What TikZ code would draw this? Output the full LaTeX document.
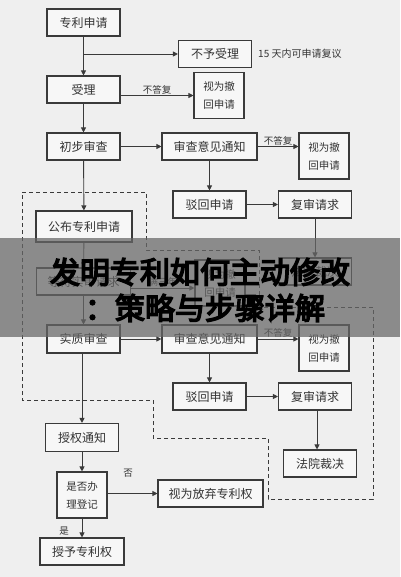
\documentclass[tikz,border=0pt]{standalone}
\usepackage{fontspec}
\usepackage{xcolor}
\usetikzlibrary{arrows.meta}
\newfontfamily\cjk{Noto Sans CJK SC}
\newfontfamily\cjktitle[FakeBold=5]{Noto Sans CJK SC}
\definecolor{paperbg}{HTML}{EFEFEF}
\definecolor{boxbg}{HTML}{F7F7F7}
\definecolor{inkline}{HTML}{3A3A3A}

\begin{document}
\begin{tikzpicture}[x=1pt, y=-1pt,
    box/.style={draw=inkline, line width=1.1pt, fill=boxbg, text=black!80,
        minimum width=73pt, minimum height=27pt, inner sep=0pt,
        font=\cjk\fontsize{12}{14}\selectfont},
    tallbox/.style={box, minimum width=50pt, minimum height=46pt, align=center,
        font=\cjk\fontsize{10.5}{18}\selectfont},
    arr/.style={draw=inkline, line width=0.9pt, -{Triangle[length=5pt,width=5pt]}},
    lbl/.style={font=\cjk\fontsize{9.5}{11}\selectfont, text=black!80, inner sep=1pt},
    zone/.style={draw=inkline, line width=0.9pt, dash pattern=on 4pt off 3pt}
]
    \useasboundingbox (0,0) rectangle (400,577);
    \fill[paperbg] (0,0) rectangle (400,577);

    % dashed zone round the substantive examination
    \draw[zone] (22,192) -- (146,192) -- (146,250) -- (259,250) -- (259,307)
        -- (373,307) -- (373,499) -- (268,499) -- (268,438) -- (153,438)
        -- (153,400) -- (22,400) -- cycle;

    % upper part - filing and preliminary examination
    \node[box] (apply) at (83.5,22.5) {专利申请};
    \node[box] (reject) at (215,54) {不予受理};
    \node[lbl, anchor=west, font=\cjk\fontsize{10}{12}\selectfont] (note) at (257,54) {15 天内可申请复议};
    \node[box] (accept) at (83.5,89.5) {受理};
    \node[tallbox] (wdA) at (219,95.5) {视为撤\\回申请};
    \node[box] (prelim) at (83.5,146.5) {初步审查};
    \node[box, minimum width=95pt] (noticeA) at (209.5,146.5) {审查意见通知};
    \node[tallbox] (wdB) at (324,156) {视为撤\\回申请};
    \node[box] (rejA) at (209.5,204.5) {驳回申请};
    \node[box] (reviewA) at (315,204.5) {复审请求};
    \node[box, minimum width=96pt, minimum height=31pt] (publish) at (84,226.5) {公布专利申请};
    \node[box, minimum width=94pt] (wait) at (83.5,281.5) {等待实审请求};
    \node[tallbox] (wdC) at (220,283) {视为撤\\回申请};
    \node[box] (courtA) at (315,271.5) {法院裁决};

    \coordinate (split) at (83.5,54);
    \draw[arr] (apply) -- (accept);
    \draw[arr] (split) -- (reject);
    \draw[arr] (accept.east |- wdA) -- node[lbl, above] (noreplyA) {不答复} (wdA.west);
    \draw[arr] (accept) -- (prelim);
    \draw[arr] (prelim) -- (noticeA);
    \draw[arr] (noticeA.east) -- node[lbl, above] (noreplyB) {不答复} (noticeA.east -| wdB.west);
    \draw[arr] (noticeA) -- (rejA);
    \draw[arr] (rejA) -- (reviewA);
    \draw[arr] (reviewA) -- (courtA);
    \draw[arr] (prelim) -- (publish);
    \draw[arr] (publish) -- (wait);
    \draw[arr] (wait.east |- 0,288) -- node[lbl, above] (threeyr) {满三年} (wdC.west |- 0,288);

    % lower part - substantive examination and grant
    \node[box, minimum height=28pt] (subst) at (83.5,339) {实质审查};
    \node[box, minimum width=95pt, minimum height=28pt] (noticeB) at (209.5,339) {审查意见通知};
    \node[tallbox] (wdD) at (324,348) {视为撤\\回申请};
    \node[box] (rejB) at (209.5,396.5) {驳回申请};
    \node[box] (reviewB) at (315,396.5) {复审请求};
    \node[box] (courtB) at (320,463.5) {法院裁决};
    \node[box, minimum height=28pt] (grant) at (82,437.5) {授权通知};
    \node[tallbox] (register) at (82,495) {是否办\\理登记};
    \node[box, minimum width=105pt] (abandon) at (210.5,493.5) {视为放弃专利权};
    \node[box, minimum width=84pt] (patent) at (82,551.5) {授予专利权};
    \node[lbl] (no) at (128,473) {否};
    \node[lbl] (yes) at (64,531) {是};

    \draw[arr] (wait) -- (subst);
    \draw[arr] (subst) -- (noticeB);
    \draw[arr] (noticeB.east) -- node[lbl, above] (noreplyC) {不答复} (noticeB.east -| wdD.west);
    \draw[arr] (noticeB) -- (rejB);
    \draw[arr] (rejB) -- (reviewB);
    \draw[arr] (reviewB.south -| 317,0) -- (courtB.north -| 317,0);
    \draw[arr] (subst.south -| grant) -- (grant);
    \draw[arr] (grant) -- (register);
    \draw[arr] (register.east |- abandon) -- (abandon);
    \draw[arr] (register) -- (patent);

    % title band laid over the chart
    \fill[black!60, fill opacity=0.73] (0,238) rectangle (400,337);
    \node[text=black, inner sep=0pt] (titleA) at (200,272) {\cjktitle\fontsize{30}{30}\selectfont 发明专利如何主动修改};
    \node[text=black, inner sep=0pt] (titleB) at (205,308) {\cjktitle\fontsize{30}{30}\selectfont ：策略与步骤详解};
\end{tikzpicture}
\end{document}
